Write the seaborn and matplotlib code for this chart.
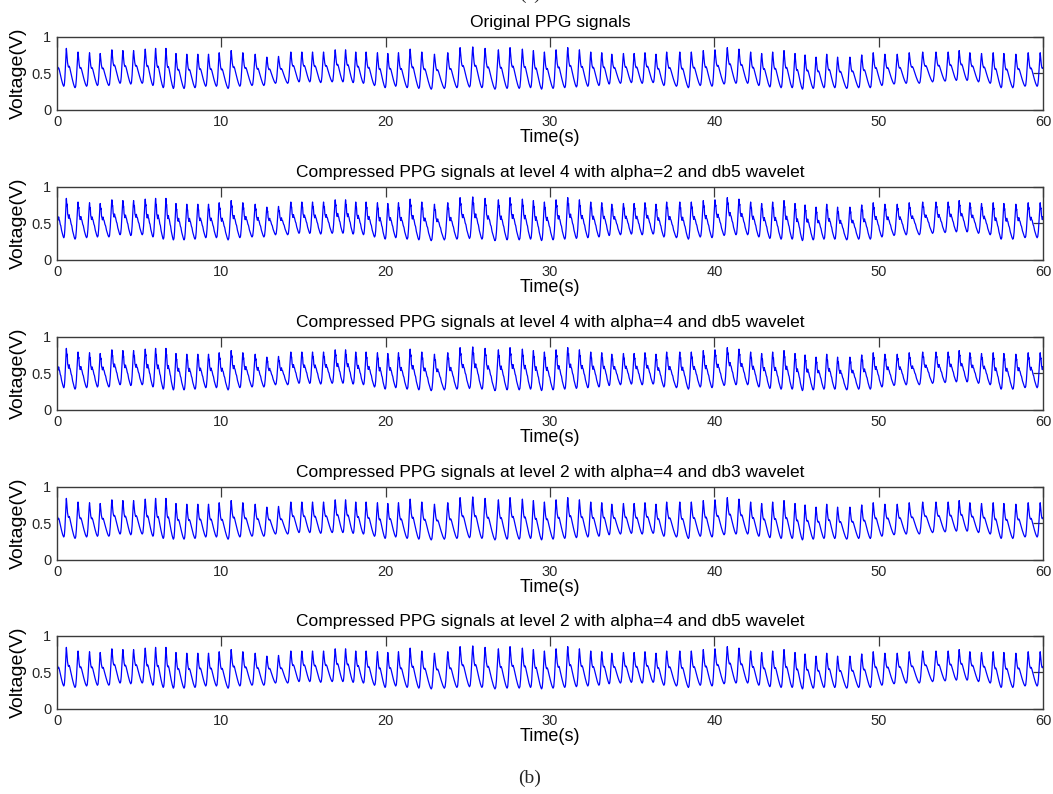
import numpy as np
import pandas as pd
import matplotlib
matplotlib.use("Agg")
import matplotlib.pyplot as plt
import seaborn as sns

# ---- data (beat peak times, peak and trough voltages) ----
peak_times = [
    0.57, 1.28, 1.98, 2.63, 3.34, 4.01, 4.66, 5.37, 6.00, 6.63,
    7.24, 7.90, 8.57, 9.22, 9.87, 10.60, 11.31, 12.06, 12.77, 13.48,
    14.23, 14.90, 15.55, 16.22, 16.93, 17.56, 18.18, 18.81, 19.50, 20.13,
    20.78, 21.49, 22.20, 22.97, 23.78, 24.53, 25.30, 26.05, 26.86, 27.57,
    28.32, 28.99, 29.66, 30.37, 31.08, 31.79, 32.48, 33.15, 33.76, 34.47,
    35.12, 35.78, 36.45, 37.10, 37.90, 38.60, 39.33, 40.04, 40.79, 41.50,
    42.21, 42.88, 43.55, 44.24, 44.91, 45.52, 46.19, 46.84, 47.50, 48.25,
    48.97, 49.67, 50.38, 51.13, 51.86, 52.68, 53.49, 54.23, 54.90, 55.55,
    56.26, 56.97, 57.62, 58.35, 59.10, 59.83,
]
peak_values = [
    0.84, 0.79, 0.78, 0.77, 0.82, 0.81, 0.81, 0.83, 0.84, 0.84,
    0.77, 0.76, 0.76, 0.76, 0.78, 0.81, 0.78, 0.76, 0.72, 0.73,
    0.79, 0.79, 0.79, 0.79, 0.82, 0.82, 0.79, 0.79, 0.78, 0.77,
    0.78, 0.83, 0.79, 0.76, 0.78, 0.85, 0.86, 0.84, 0.82, 0.85,
    0.83, 0.81, 0.79, 0.82, 0.85, 0.82, 0.79, 0.78, 0.76, 0.77,
    0.77, 0.78, 0.76, 0.79, 0.79, 0.79, 0.81, 0.82, 0.85, 0.83,
    0.79, 0.77, 0.79, 0.81, 0.77, 0.75, 0.72, 0.76, 0.72, 0.72,
    0.75, 0.78, 0.76, 0.76, 0.78, 0.79, 0.79, 0.79, 0.81, 0.78,
    0.77, 0.78, 0.77, 0.76, 0.78, 0.78,
]
trough_values = [
    0.32, 0.30, 0.32, 0.33, 0.33, 0.36, 0.35, 0.36, 0.33, 0.30,
    0.29, 0.29, 0.30, 0.32, 0.32, 0.29, 0.32, 0.33, 0.33, 0.36,
    0.36, 0.38, 0.38, 0.37, 0.38, 0.38, 0.37, 0.36, 0.33, 0.30,
    0.32, 0.30, 0.29, 0.28, 0.29, 0.30, 0.31, 0.30, 0.28, 0.29,
    0.29, 0.30, 0.28, 0.29, 0.30, 0.31, 0.32, 0.33, 0.35, 0.36,
    0.37, 0.36, 0.37, 0.33, 0.32, 0.30, 0.33, 0.32, 0.35, 0.36,
    0.36, 0.33, 0.31, 0.30, 0.30, 0.28, 0.29, 0.30, 0.30, 0.29,
    0.30, 0.30, 0.33, 0.35, 0.36, 0.36, 0.38, 0.39, 0.40, 0.40,
    0.38, 0.36, 0.30, 0.30, 0.32, 0.32,
]

titles = [
    "Original PPG signals",
    "Compressed PPG signals at level 4 with alpha=2 and db5 wavelet",
    "Compressed PPG signals at level 4 with alpha=4 and db5 wavelet",
    "Compressed PPG signals at level 2 with alpha=4 and db3 wavelet",
    "Compressed PPG signals at level 2 with alpha=4 and db5 wavelet",
]
x_ticks = [0, 10, 20, 30, 40, 50, 60]
y_ticks = [0, 0.5, 1]
y_tick_labels = ["0", "0.5", "1"]

# ---- beat waveform shapes (phase within a beat, fraction of peak-trough amplitude) ----
smooth_fall = ([0.0, 0.04, 0.09, 0.14, 0.19, 0.24, 0.30, 0.40, 0.50, 0.58, 0.66, 0.74],
               [1.0, 0.85, 0.66, 0.56, 0.52, 0.55, 0.50, 0.36, 0.23, 0.13, 0.05, 0.0])
jagged_fall = ([0.0, 0.04, 0.07, 0.11, 0.15, 0.19, 0.24, 0.28, 0.33, 0.40, 0.46, 0.52, 0.58, 0.66, 0.74],
               [1.0, 0.82, 0.86, 0.62, 0.58, 0.50, 0.60, 0.52, 0.50, 0.38, 0.34, 0.22, 0.16, 0.06, 0.0])
rise = ([0.74, 0.80, 0.85, 0.90, 0.95, 1.0], [0.0, 0.04, 0.2, 0.5, 0.82, 1.0])
panel_shapes = [smooth_fall, jagged_fall, jagged_fall, smooth_fall, smooth_fall]
panel_trough_shift = [0.0, -0.02, -0.02, -0.01, -0.01]


def build_signal(fall, shift):
    pt = [-0.05] + peak_times + [60.5]
    pv = [0.78] + peak_values + [0.78]
    tv = [0.33] + trough_values + [0.33]
    kt, kv = [], []
    for i in range(len(pt) - 1):
        per = pt[i + 1] - pt[i]
        P, Tn, Pn = pv[i], tv[i + 1] + shift, pv[i + 1]
        for ph, fr in zip(*fall):
            kt.append(pt[i] + ph * per)
            kv.append(Tn + fr * (P - Tn))
        for ph, fr in zip(rise[0][1:-1], rise[1][1:-1]):
            kt.append(pt[i] + ph * per)
            kv.append(Tn + fr * (Pn - Tn))
    kt.append(pt[-1]); kv.append(pv[-1])
    t = np.linspace(0, 60, 6001)
    return t, np.interp(t, kt, kv)


sns.set_theme(style="white")
plt.rcParams["font.family"] = ["Liberation Sans", "DejaVu Sans"]

W, H = 1053, 794
fig = plt.figure(figsize=(W / 100, H / 100), dpi=100)

left_px, right_px = 57, 1043
tops = [36.7, 186.7, 336.7, 486.7, 635.7]
height_px = 73

spine_col = "#3a3a3a"
for k in range(5):
    ax = fig.add_axes([left_px / W, 1 - (tops[k] + height_px) / H,
                       (right_px - left_px) / W, height_px / H])
    t, v = build_signal(panel_shapes[k], panel_trough_shift[k])
    df = pd.DataFrame({"Time(s)": t, "Voltage(V)": v})
    sns.lineplot(data=df, x="Time(s)", y="Voltage(V)", ax=ax, color="#0000ff",
                 linewidth=0.9, estimator=None, sort=False)
    ax.set_xlim(0, 60)
    ax.set_ylim(0, 1)
    ax.set_xticks(x_ticks)
    ax.set_xticklabels([str(x) for x in x_ticks])
    ax.set_yticks(y_ticks)
    ax.set_yticklabels(y_tick_labels)
    ax.tick_params(direction="in", top=True, right=True, length=7, width=0.9,
                   colors=spine_col, labelcolor="#262626", labelsize=10.5, pad=4)
    for s in ax.spines.values():
        s.set_visible(True)
        s.set_color(spine_col)
        s.set_linewidth(1.0)
    ax.set_title(titles[k], fontsize=12.5, pad=7, color="black")
    ax.set_xlabel("Time(s)", fontsize=13, labelpad=0, color="black")
    ax.set_ylabel("Voltage(V)", fontsize=14, labelpad=3, color="black")
    ax.grid(False)

fig.text(0.503, 1 + 6 / H, "(a)", ha="center", va="center", fontsize=14,
         family=["Liberation Serif", "DejaVu Serif"])
fig.text(0.503, 1 - 778 / H, "(b)", ha="center", va="center", fontsize=14,
         family=["Liberation Serif", "DejaVu Serif"])

fig.savefig("out.png", dpi=100, facecolor="white")
